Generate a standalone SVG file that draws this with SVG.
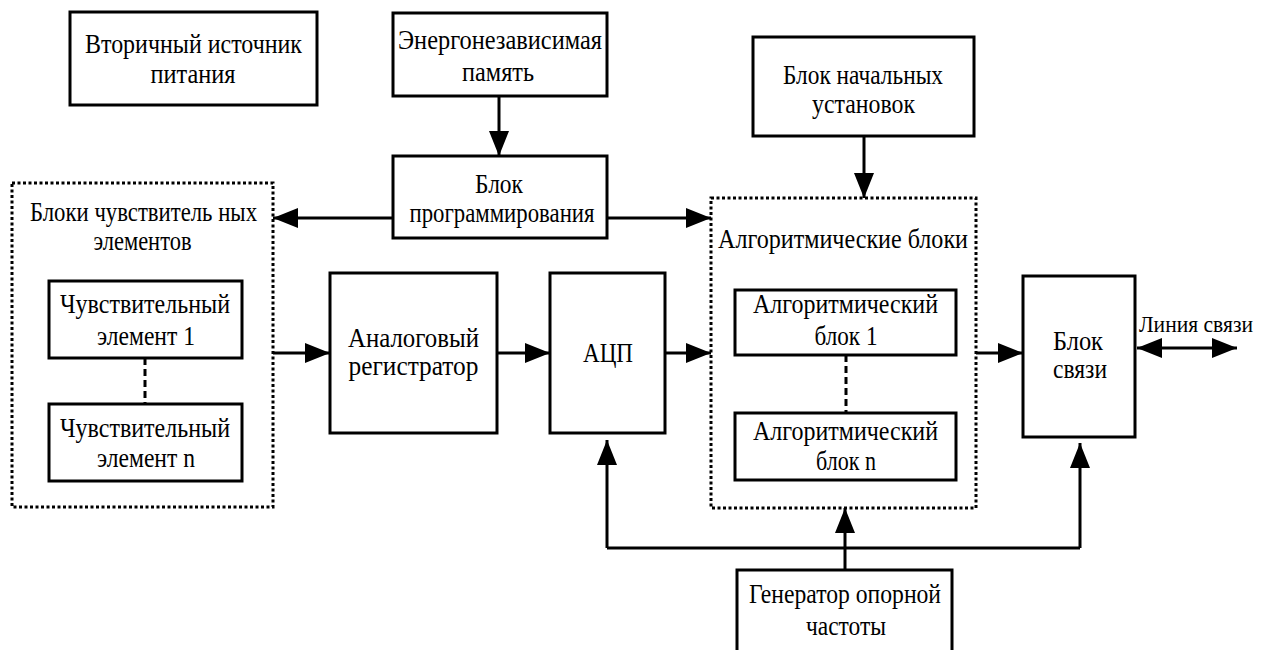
<svg xmlns="http://www.w3.org/2000/svg" width="1269" height="650" viewBox="0 0 1269 650">
<style>
.box{fill:#fff;stroke:#000;stroke-width:3}
.dot{fill:none;stroke:#000;stroke-width:3;stroke-dasharray:3 2.5}
.t{font-family:"Liberation Serif","DejaVu Serif",serif;font-size:28px;fill:#000;text-anchor:middle}
.c{fill:none;stroke:#000;stroke-width:3}
.dash{fill:none;stroke:#000;stroke-width:3;stroke-dasharray:7 4}
</style>
<defs>
<marker id="ah" viewBox="0 0 25 20" refX="25" refY="10" markerWidth="25" markerHeight="20" markerUnits="userSpaceOnUse" orient="auto-start-reverse">
<path d="M0,0 L25,10 L0,20 z" fill="#000"/>
</marker>
</defs>
<rect width="1269" height="650" fill="#fff"/>

<g id="connectors">
<line class="c" x1="499" y1="96" x2="499" y2="156" marker-end="url(#ah)"/>
<line class="c" x1="864" y1="136" x2="864" y2="198" marker-end="url(#ah)"/>
<line class="c" x1="393" y1="218" x2="273" y2="218" marker-end="url(#ah)"/>
<line class="c" x1="607" y1="218" x2="711" y2="218" marker-end="url(#ah)"/>
<line class="c" x1="273" y1="353" x2="330" y2="353" marker-end="url(#ah)"/>
<line class="c" x1="497" y1="353" x2="550" y2="353" marker-end="url(#ah)"/>
<line class="c" x1="666" y1="353" x2="711" y2="353" marker-end="url(#ah)"/>
<line class="c" x1="976" y1="353" x2="1023" y2="353" marker-end="url(#ah)"/>
<line class="c" x1="1137" y1="348" x2="1237" y2="348" marker-start="url(#ah)" marker-end="url(#ah)"/>
<line class="dash" x1="145" y1="358" x2="145" y2="404"/>
<line class="dash" x1="846" y1="355" x2="846" y2="413"/>
<polyline class="c" points="607,548 1080,548"/>
<line class="c" x1="607" y1="548" x2="607" y2="440" marker-end="url(#ah)"/>
<line class="c" x1="1080" y1="548" x2="1080" y2="443" marker-end="url(#ah)"/>
<line class="c" x1="845" y1="570" x2="845" y2="508" marker-end="url(#ah)"/>
</g>

<g id="power">
<rect class="box" x="70" y="12" width="247" height="93"/>
<text class="t" x="193.5" y="53" textLength="217" lengthAdjust="spacingAndGlyphs">Вторичный источник</text>
<text class="t" x="193" y="83" textLength="85" lengthAdjust="spacingAndGlyphs">питания</text>
</g>

<g id="memory">
<rect class="box" x="393" y="13" width="214" height="83"/>
<text class="t" x="500" y="49" textLength="204" lengthAdjust="spacingAndGlyphs">Энергонезависимая</text>
<text class="t" x="498" y="81" textLength="72" lengthAdjust="spacingAndGlyphs">память</text>
</g>

<g id="programming">
<rect class="box" x="393" y="156" width="214" height="82"/>
<text class="t" x="499" y="193" textLength="48" lengthAdjust="spacingAndGlyphs">Блок</text>
<text class="t" x="502" y="222" textLength="185" lengthAdjust="spacingAndGlyphs">программирования</text>
</g>

<g id="initial">
<rect class="box" x="753" y="37" width="221" height="99"/>
<text class="t" x="863" y="84" textLength="160" lengthAdjust="spacingAndGlyphs">Блок начальных</text>
<text class="t" x="863.5" y="113" textLength="103" lengthAdjust="spacingAndGlyphs">установок</text>
</g>

<g id="sensors">
<rect class="dot" x="12" y="183" width="261" height="324"/>
<text class="t" x="143.5" y="221" textLength="227" lengthAdjust="spacingAndGlyphs">Блоки чувствитель ных</text>
<text class="t" x="142.5" y="250" textLength="98" lengthAdjust="spacingAndGlyphs">элементов</text>
</g>

<g id="sensor1">
<rect class="box" x="49" y="281" width="193" height="77"/>
<text class="t" x="145" y="313" textLength="170" lengthAdjust="spacingAndGlyphs">Чувствительный</text>
<text class="t" x="146" y="345" textLength="98" lengthAdjust="spacingAndGlyphs">элемент 1</text>
</g>

<g id="sensorn">
<rect class="box" x="49" y="404" width="193" height="77"/>
<text class="t" x="145" y="437" textLength="170" lengthAdjust="spacingAndGlyphs">Чувствительный</text>
<text class="t" x="146" y="467" textLength="98" lengthAdjust="spacingAndGlyphs">элемент n</text>
</g>

<g id="analog">
<rect class="box" x="330" y="273" width="167" height="160"/>
<text class="t" x="413.5" y="347" textLength="131" lengthAdjust="spacingAndGlyphs">Аналоговый</text>
<text class="t" x="413.5" y="375" textLength="130" lengthAdjust="spacingAndGlyphs">регистратор</text>
</g>

<g id="adc">
<rect class="box" x="550" y="273" width="115" height="160"/>
<text class="t" x="608" y="362" textLength="50" lengthAdjust="spacingAndGlyphs">АЦП</text>
</g>

<g id="algorithmic">
<rect class="dot" x="711" y="198" width="265" height="310"/>
<text class="t" x="843" y="248" textLength="250" lengthAdjust="spacingAndGlyphs">Алгоритмические блоки</text>
</g>

<g id="alg1">
<rect class="box" x="735" y="290" width="221" height="65"/>
<text class="t" x="845.5" y="313" textLength="185" lengthAdjust="spacingAndGlyphs">Алгоритмический</text>
<text class="t" x="846" y="345" textLength="63" lengthAdjust="spacingAndGlyphs">блок 1</text>
</g>

<g id="algn">
<rect class="box" x="735" y="413" width="221" height="67"/>
<text class="t" x="845.5" y="440" textLength="185" lengthAdjust="spacingAndGlyphs">Алгоритмический</text>
<text class="t" x="846" y="470" textLength="60" lengthAdjust="spacingAndGlyphs">блок n</text>
</g>

<g id="comm">
<rect class="box" x="1023" y="276" width="112" height="161"/>
<text class="t" x="1078" y="350" textLength="50" lengthAdjust="spacingAndGlyphs">Блок</text>
<text class="t" x="1080" y="378" textLength="54" lengthAdjust="spacingAndGlyphs">связи</text>
</g>

<g id="line-label">
<text class="t" x="1196" y="332" style="font-size:23px" textLength="114" lengthAdjust="spacingAndGlyphs">Линия связи</text>
</g>

<g id="generator">
<rect class="box" x="737" y="570" width="215" height="100"/>
<text class="t" x="845" y="603" textLength="192" lengthAdjust="spacingAndGlyphs">Генератор опорной</text>
<text class="t" x="846" y="635" textLength="80" lengthAdjust="spacingAndGlyphs">частоты</text>
</g>
</svg>
